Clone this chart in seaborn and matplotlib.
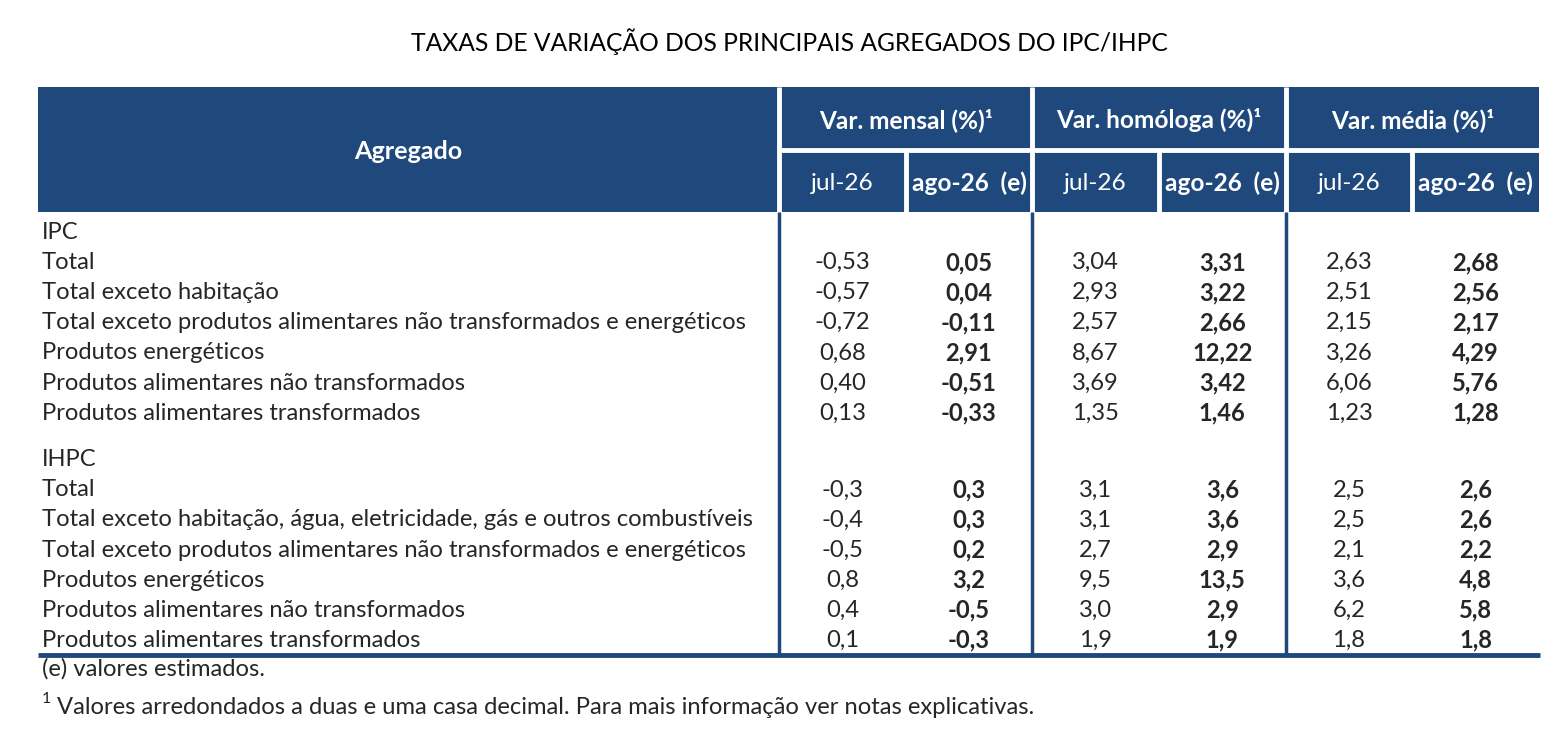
import matplotlib.pyplot as plt
import seaborn as sns
from matplotlib.patches import Rectangle

# table content
title = "TAXAS DE VARIAÇÃO DOS PRINCIPAIS AGREGADOS DO IPC/IHPC"
groups = ["Var. mensal (%)¹", "Var. homóloga (%)¹", "Var. média (%)¹"]
periods = ["jul-26", "ago-26  (e)"]

ipc_labels = [
    "Total",
    "Total exceto habitação",
    "Total exceto produtos alimentares não transformados e energéticos",
    "Produtos energéticos",
    "Produtos alimentares não transformados",
    "Produtos alimentares transformados",
]
ipc_mensal_jul = [-0.53, -0.57, -0.72, 0.68, 0.40, 0.13]
ipc_mensal_ago = [0.05, 0.04, -0.11, 2.91, -0.51, -0.33]
ipc_homol_jul = [3.04, 2.93, 2.57, 8.67, 3.69, 1.35]
ipc_homol_ago = [3.31, 3.22, 2.66, 12.22, 3.42, 1.46]
ipc_media_jul = [2.63, 2.51, 2.15, 3.26, 6.06, 1.23]
ipc_media_ago = [2.68, 2.56, 2.17, 4.29, 5.76, 1.28]

ihpc_labels = [
    "Total",
    "Total exceto habitação, água, eletricidade, gás e outros combustíveis",
    "Total exceto produtos alimentares não transformados e energéticos",
    "Produtos energéticos",
    "Produtos alimentares não transformados",
    "Produtos alimentares transformados",
]
ihpc_mensal_jul = [-0.3, -0.4, -0.5, 0.8, 0.4, 0.1]
ihpc_mensal_ago = [0.3, 0.3, 0.2, 3.2, -0.5, -0.3]
ihpc_homol_jul = [3.1, 3.1, 2.7, 9.5, 3.0, 1.9]
ihpc_homol_ago = [3.6, 3.6, 2.9, 13.5, 2.9, 1.9]
ihpc_media_jul = [2.5, 2.5, 2.1, 3.6, 6.2, 1.8]
ihpc_media_ago = [2.6, 2.6, 2.2, 4.8, 5.8, 1.8]

notes = ["(e) valores estimados.",
         "Valores arredondados a duas e uma casa decimal. Para mais informação ver notas explicativas."]

sns.set_theme(style="white")
plt.rcParams["font.family"] = ["Lato", "DejaVu Sans"]

BLUE = "#1f497d"
FS_BODY = 17.1
FS_HEAD = 17.6

fig = plt.figure(figsize=(15.54, 7.33), dpi=100)
ax = fig.add_axes([0, 0, 1, 1])
ax.set_xlim(0, 1554)
ax.set_ylim(733, 0)
ax.axis("off")

# column geometry
left, label_right, right = 38, 779, 1539
group_w = (right - label_right) / 3
col_w = group_w / 2
head_top, head_mid, head_bot = 87, 150, 212

ax.text(789, 42, title, ha="center", va="center", fontsize=17.7, color="black")

# header block
ax.add_patch(Rectangle((left, head_top), right - left, head_bot - head_top, color=BLUE, lw=0))
ax.text((left + label_right) / 2, (head_top + head_bot) / 2 + 2, "Agregado",
        ha="center", va="center", color="white", fontsize=FS_HEAD + 0.5, fontweight="bold")
for g, name in enumerate(groups):
    gx = label_right + g * group_w
    ax.plot([gx, gx], [head_top, head_bot], color="white", lw=3.5, solid_capstyle="butt")
    ax.text(gx + group_w / 2, (head_top + head_mid) / 2 + 2, name, ha="center", va="center",
            color="white", fontsize=FS_HEAD, fontweight="bold")
    ax.plot([gx + 2, gx + group_w], [head_mid, head_mid], color="white", lw=3.5, solid_capstyle="butt")
    for p, per in enumerate(periods):
        cx = gx + p * col_w
        if p:
            ax.plot([cx, cx], [head_mid, head_bot], color="white", lw=3.5, solid_capstyle="butt")
        ax.text(cx + col_w / 2, (head_mid + head_bot) / 2 + 2, per, ha="center", va="center",
                color="white", fontsize=FS_HEAD, fontweight="bold" if p else "normal")

# body
row_h = 30.1
y_start = 232.5
sections = [
    ("IPC", ipc_labels, [ipc_mensal_jul, ipc_mensal_ago, ipc_homol_jul, ipc_homol_ago,
                         ipc_media_jul, ipc_media_ago], 2, 0),
    ("IHPC", ihpc_labels, [ihpc_mensal_jul, ihpc_mensal_ago, ihpc_homol_jul, ihpc_homol_ago,
                           ihpc_media_jul, ihpc_media_ago], 1, 7.55),
]
for name, labels, cols, dec, offset in sections:
    y0 = y_start + offset * row_h
    ax.text(42, y0, name, ha="left", va="center", fontsize=FS_BODY)
    for i, lab in enumerate(labels):
        y = y0 + (i + 1) * row_h
        ax.text(42, y, lab, ha="left", va="center", fontsize=FS_BODY)
        for j, vals in enumerate(cols):
            txt = f"{vals[i]:.{dec}f}".replace(".", ",")
            ax.text(label_right + (j + 0.5) * col_w, y, txt, ha="center", va="center",
                    fontsize=FS_BODY, fontweight="bold" if j % 2 else "normal")

body_bot = 655
for g in range(3):
    gx = label_right + g * group_w
    ax.plot([gx, gx], [head_bot, body_bot], color=BLUE, lw=2.5, solid_capstyle="butt")
ax.plot([left, right + 1], [body_bot, body_bot], color=BLUE, lw=3.5, solid_capstyle="butt")

# notes
ax.text(42, 669, notes[0], ha="left", va="center", fontsize=17.1)
ax.text(42, 699, "1", ha="left", va="center", fontsize=11.5)
ax.text(57, 707, notes[1], ha="left", va="center", fontsize=17.1)

fig.savefig("out.png", dpi=100, facecolor="white")
